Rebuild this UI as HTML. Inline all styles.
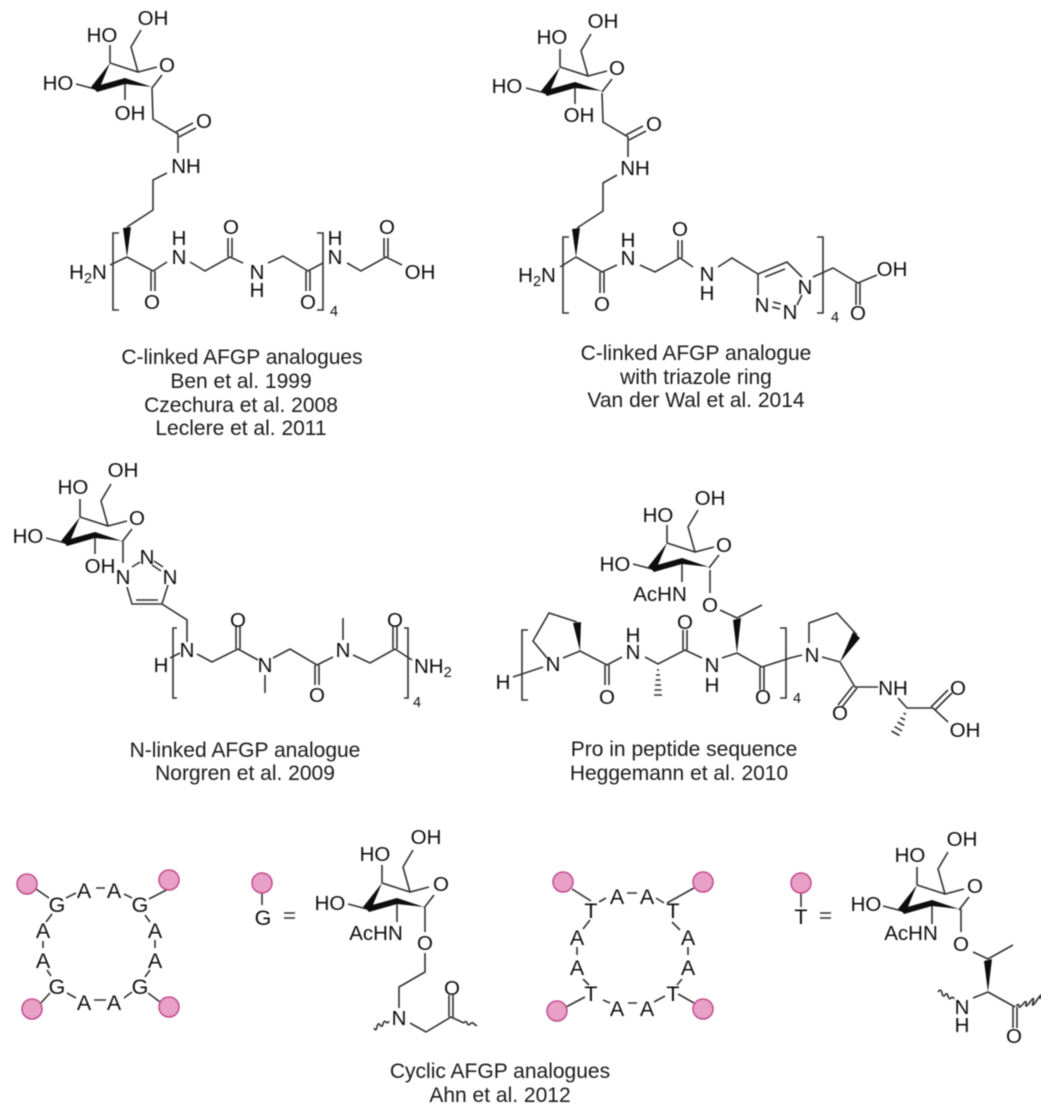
<!DOCTYPE html>
<html><head><meta charset="utf-8"><style>
html,body{margin:0;padding:0;background:#fff;width:1051px;height:1114px;overflow:hidden}
svg{display:block}
text{font-family:"Liberation Sans",Arial,sans-serif;fill:#111;text-anchor:middle}
.a{font-size:20.5px}
.b{font-size:21.5px}
.c{font-size:21px;fill:#1a1a1a}
.s{font-size:14.5px}
.l{fill:none;stroke:#333;stroke-width:1.6}
.f{fill:#111;stroke:none}
.p{fill:#e8a0c6;stroke:#c2458c;stroke-width:1.5}
.st{text-anchor:start}
</style></head><body>
<svg width="1051" height="1114" viewBox="0 0 1051 1114" xmlns="http://www.w3.org/2000/svg">
<defs><filter id="b" x="0" y="0" width="100%" height="100%"><feGaussianBlur stdDeviation="0.4"/></filter></defs>
<rect width="1051" height="1114" fill="#fff"/>
<g filter="url(#b)">

<!-- Sugars -->
<g transform="translate(0,0)"><path class="l" d="M110 63L138 72L157 67M162 75L152 88M138 72L131 47L141 30M110 63V45M95 89L76 84M125 81V100"/><path class="f" d="M110 63L91 87L98 92Z"/><path class="f" d="M93 87L125 78L152 87L125 84L97 92Z"/></g>
<g transform="translate(450,4)"><path class="l" d="M110 63L138 72L157 67M162 75L152 88M138 72L131 47L141 30M110 63V45M95 89L76 84M125 81V100"/><path class="f" d="M110 63L91 87L98 92Z"/><path class="f" d="M93 87L125 78L152 87L125 84L97 92Z"/></g>
<g transform="translate(-30,454)"><path class="l" d="M110 63L138 72L157 67M162 75L152 88M138 72L131 47L141 30M110 63V45M95 89L76 84M125 81V100"/><path class="f" d="M110 63L91 87L98 92Z"/><path class="f" d="M93 87L125 78L152 87L125 84L97 92Z"/></g>
<g transform="translate(557,480)"><path class="l" d="M110 63L138 72L157 67M162 75L152 88M138 72L131 47L141 30M110 63V45M95 89L76 84M125 81V102"/><path class="f" d="M110 63L91 87L98 92Z"/><path class="f" d="M93 87L125 78L152 87L125 84L97 92Z"/></g>
<g transform="translate(272,820)"><path class="l" d="M110 63L138 72L157 67M162 75L152 88M138 72L131 47L141 30M110 63V45M95 89L76 84M125 81V102"/><path class="f" d="M110 63L91 87L98 92Z"/><path class="f" d="M93 87L125 78L152 87L125 84L97 92Z"/></g>
<g transform="translate(807,822)"><path class="l" d="M110 63L138 72L157 67M162 75L152 88M138 72L131 47L141 30M110 63V45M95 89L76 84M125 81V102"/><path class="f" d="M110 63L91 87L98 92Z"/><path class="f" d="M93 87L125 78L152 87L125 84L97 92Z"/></g>

<!-- Structure 1 -->
<path class="l" d="M152 88L153 119L178 134V153M167 173L153 180V210L127 227M127 257L110 265M127 257L153 271L167 262M190 262L205 271L230 257L243 263M268 263L283 256L308 271L323 263M347 263L361 271L386 257L402 265"/>
<path class="l" d="M176 132L193 123M179 137L196 128M151 271V291M155 271V291M228 257V238M232 257V238M306 271V291M310 271V291M384 257V238M388 257V238"/>
<path class="f" d="M127 257L123 228L131 227Z"/>
<path class="l" d="M119 233H113V310H119M317 233H323V310H317"/>
<text class="a" x="167" y="72">O</text>
<text class="a" x="153" y="25">OH</text><text class="a" x="102" y="42">HO</text><text class="a" x="58" y="90">HO</text><text class="a" x="130" y="120">OH</text>
<text class="a" x="204" y="128">O</text><text class="a" x="186" y="173">NH</text><text class="a" x="88" y="279">H<tspan class="s" dy="4">2</tspan><tspan dy="-4">N</tspan></text>
<text class="a" x="152" y="309">O</text><text class="a" x="179" y="264">N</text><text class="a" x="179" y="245">H</text><text class="a" x="231" y="234">O</text>
<text class="a" x="257" y="279">N</text><text class="a" x="257" y="297">H</text><text class="a" x="308" y="309">O</text><text class="a" x="335" y="264">N</text><text class="a" x="335" y="245">H</text>
<text class="a" x="387" y="234">O</text><text class="a" x="420" y="279">OH</text><text class="s" x="334" y="316">4</text>

<!-- Structure 2 -->
<path class="l" d="M602 93L603 122L628 137V157M617 175L603 183V211L577 228M576 257L560 267M576 257L602 272L617 265M640 265L655 272L680 258L693 267M718 267L732 258L758 274L787 262L802 277M802 295L797 305M758 295V274M813 277L833 268L858 283L877 275"/>
<path class="l" d="M626 135L643 126M629 140L646 131M600 272V293M604 272V293M678 258V240M682 258V240M765 277L785 269M773 302L781 304M772 307L780 309M856 283V305M860 283V305"/>
<path class="f" d="M576 257L572 229L580 228Z"/>
<path class="l" d="M569 237H563V313H569M817 237H823V313H817"/>
<text class="a" x="617" y="75">O</text>
<text class="a" x="603" y="28">OH</text><text class="a" x="552" y="44">HO</text><text class="a" x="507" y="93">HO</text><text class="a" x="579" y="122">OH</text>
<text class="a" x="654" y="131">O</text><text class="a" x="635" y="175">NH</text><text class="a" x="537" y="282">H<tspan class="s" dy="4">2</tspan><tspan dy="-4">N</tspan></text>
<text class="a" x="602" y="311">O</text><text class="a" x="628" y="265">N</text><text class="a" x="628" y="247">H</text><text class="a" x="680" y="236">O</text>
<text class="a" x="707" y="281">N</text><text class="a" x="707" y="300">H</text><text class="a" x="762" y="312">N</text><text class="a" x="790" y="319">N</text><text class="a" x="805" y="294">N</text>
<text class="a" x="858" y="320">O</text><text class="a" x="892" y="276">OH</text><text class="s" x="835" y="322">4</text>

<!-- Structure 3 -->
<path class="l" d="M123 542V563M132 567L140 562M168 585L162 604L132 604L127 587M162 604L187 620V642M170 658L180 653M197 654L212 662L238 649L258 660M273 658L290 649L317 665L333 657M353 655L370 663L395 649L412 660M265 675V693M343 618V640"/>
<path class="l" d="M154 561L163 567M152 565L161 571M136 600H158M236 649V625M240 649V625M315 665V685M319 665V685M393 649V625M397 649V625"/>
<path class="l" d="M177 628H173V698H177M404 628H408V698H404"/>
<text class="a" x="137" y="525">O</text>
<text class="a" x="123" y="477">OH</text><text class="a" x="73" y="494">HO</text><text class="a" x="28" y="543">HO</text><text class="a" x="100" y="573">OH</text>
<text class="a" x="123" y="584">N</text><text class="a" x="147" y="564">N</text><text class="a" x="170" y="584">N</text><text class="a" x="187" y="657">N</text><text class="a" x="161" y="672">H</text>
<text class="a" x="238" y="627">O</text><text class="a" x="265" y="672">N</text><text class="a" x="317" y="702">O</text><text class="a" x="343" y="657">N</text><text class="a" x="395" y="627">O</text>
<text class="a st" x="414" y="673">NH<tspan class="s" dy="4">2</tspan></text><text class="s" x="417" y="707">4</text>

<!-- Structure 4 -->
<path class="l" d="M710 570V593M720 610L737 618L762 605M737 653L722 658M702 658L685 650L658 664L645 657M622 657L607 665L580 651L563 658M577 622L549 613L533 641L547 658M543 667L513 677M737 653L762 667L790 658L802 655M809 643V623L837 613L857 635M840 662L822 657M840 662L855 687L878 687M898 698L907 708L933 708L948 722"/>
<path class="l" d="M683 650V630M687 650V630M605 665V685M609 665V685M760 667V690M764 667V690M853 686L838 705M857 688L842 707M931 707L948 690M935 710L952 693"/>
<path class="f" d="M737 653L733 620L741 618Z"/><path class="f" d="M580 651L573 623L581 622Z"/><path class="f" d="M840 662L853 632L860 638Z"/>
<path class="l" d="M657 670H659M656 675H660M655.500 680H660.500M655 685H661M654.500 690H661.500M654 695H662"/>
<path class="l" d="M903.500 713L906 714.500M900.500 717.500L905 720M897.500 722L904 725.500M894.500 726.500L902 731M891.500 731L899.500 735.500"/>
<path class="l" d="M528 630H522V700H528M780 628H786V698H780"/>
<text class="a" x="724" y="552">O</text>
<text class="a" x="710" y="505">OH</text><text class="a" x="658" y="522">HO</text><text class="a" x="615" y="571">HO</text><text class="a" x="660" y="601">AcHN</text><text class="a" x="710" y="612">O</text>
<text class="a" x="685" y="629">O</text><text class="a" x="712" y="672">N</text><text class="a" x="712" y="692">H</text><text class="a" x="633" y="659">N</text><text class="a" x="633" y="642">H</text>
<text class="a" x="607" y="704">O</text><text class="a" x="553" y="671">N</text><text class="a" x="503" y="689">H</text><text class="a" x="763" y="704">O</text><text class="s" x="797" y="703">4</text>
<text class="a" x="812" y="662">N</text><text class="a" x="840" y="720">O</text><text class="a" x="893" y="695">NH</text><text class="a" x="958" y="695">O</text><text class="a" x="965" y="737">OH</text>

<!-- Cyclic G -->
<path class="l" d="M36 889L49 898M178 884L149 899M40 1004L50 993M160 1002L148 993M66 898L76 893M96 888H105M124 894L132 898M145 915L150 922M155 940V948M150 970L145 977M132 992L124 998M106 1000H94M76 998L67 993M51 976L47 970M43 948V941M46 922L52 914"/>
<circle class="p" cx="27" cy="884" r="10"/><circle class="p" cx="169" cy="880" r="10"/><circle class="p" cx="32" cy="1009" r="10"/><circle class="p" cx="169" cy="1007" r="10"/>
<text class="b" x="57" y="912">G</text><text class="b" x="84" y="898">A</text><text class="b" x="114" y="898">A</text><text class="b" x="140" y="912">G</text><text class="b" x="155" y="938">A</text><text class="b" x="155" y="968">A</text>
<text class="b" x="140" y="994">G</text><text class="b" x="114" y="1010">A</text><text class="b" x="84" y="1010">A</text><text class="b" x="57" y="994">G</text><text class="b" x="43" y="968">A</text><text class="b" x="43" y="938">A</text>
<path class="l" d="M262 893V905"/><circle class="p" cx="262" cy="883" r="10"/>
<text class="b" x="263" y="925">G</text><path class="l" d="M284 913H295M284 918H295"/>
<path class="l" d="M425 908V932M425 953V972L399 987V1008M410 1023L426 1032L451 1017L464 1023M449 1017V995M453 1017V995"/>
<path class="l" d="M464 1023q2-3 3 0t3 1t3-1t4 3M389 1021q-1 3-3 1t-3 2t-3 1t-3 2t-3 1"/>
<text class="a" x="441" y="891">O</text>
<text class="a" x="426" y="844">OH</text><text class="a" x="375" y="861">HO</text><text class="a" x="330" y="910">HO</text><text class="a" x="376" y="940">AcHN</text><text class="a" x="425" y="950">O</text>
<text class="a" x="399" y="1025">N</text><text class="a" x="452" y="995">O</text>

<!-- Cyclic T -->
<path class="l" d="M572 889L591 901M694 888L667 903M566 1007L585 997M694 1003L678 994M599 902L606 898M627 893H637M656 898L664 903M590 920L583 929M577 947V955M583 979L589 985M672 922L680 930M688 947V955M682 979L677 985M603 1000L610 1003M628 1003H637M654 1002L665 996"/>
<circle class="p" cx="563" cy="882" r="10"/><circle class="p" cx="703" cy="882" r="10"/><circle class="p" cx="557" cy="1011" r="10"/><circle class="p" cx="703" cy="1009" r="10"/>
<text class="b" x="591" y="918">T</text><text class="b" x="617" y="904">A</text><text class="b" x="647" y="904">A</text><text class="b" x="673" y="918">T</text><text class="b" x="688" y="945">A</text><text class="b" x="688" y="975">A</text>
<text class="b" x="673" y="1001">T</text><text class="b" x="647" y="1016">A</text><text class="b" x="617" y="1016">A</text><text class="b" x="591" y="1001">T</text><text class="b" x="577" y="975">A</text><text class="b" x="577" y="945">A</text>
<path class="l" d="M801 893V907"/><circle class="p" cx="801" cy="883" r="10"/>
<text class="b" x="801" y="924">T</text><path class="l" d="M820 913H831M820 918H831"/>
<path class="l" d="M961 909V932M973 952L988 959L1013 945M988 992L973 998M988 992L1015 1007M1013 1007V1028M1017 1007V1028"/>
<path class="f" d="M988 992L984 961L992 959Z"/>
<path class="l" d="M954 999q-1-3-3-1t-3-2t-3-1t-3-2t-4-1M1016 1006q3-3 3 0t4-2t3 0t4-2t3 0t4-2t3-1"/>
<text class="a" x="975" y="893">O</text>
<text class="a" x="962" y="846">OH</text><text class="a" x="910" y="862">HO</text><text class="a" x="866" y="911">HO</text><text class="a" x="911" y="940">AcHN</text><text class="a" x="961" y="951">O</text>
<text class="a" x="962" y="1014">N</text><text class="a" x="962" y="1032">H</text><text class="a" x="1014" y="1043">O</text>

<!-- Captions -->
<text class="c" x="242" y="364">C-linked AFGP analogues</text>
<text class="c" x="241" y="388">Ben et al. 1999</text>
<text class="c" x="241" y="412">Czechura et al. 2008</text>
<text class="c" x="241" y="435">Leclere et al. 2011</text>
<text class="c" x="696" y="360">C-linked AFGP analogue</text>
<text class="c" x="696" y="384">with triazole ring</text>
<text class="c" x="696" y="407">Van der Wal et al. 2014</text>
<text class="c" x="245" y="757">N-linked AFGP analogue</text>
<text class="c" x="245" y="780">Norgren et al. 2009</text>
<text class="c" x="684" y="756">Pro in peptide sequence</text>
<text class="c" x="679" y="780">Heggemann et al. 2010</text>
<text class="c" x="500" y="1078">Cyclic AFGP analogues</text>
<text class="c" x="500" y="1102">Ahn et al. 2012</text>
</g>
</svg>
</body></html>
